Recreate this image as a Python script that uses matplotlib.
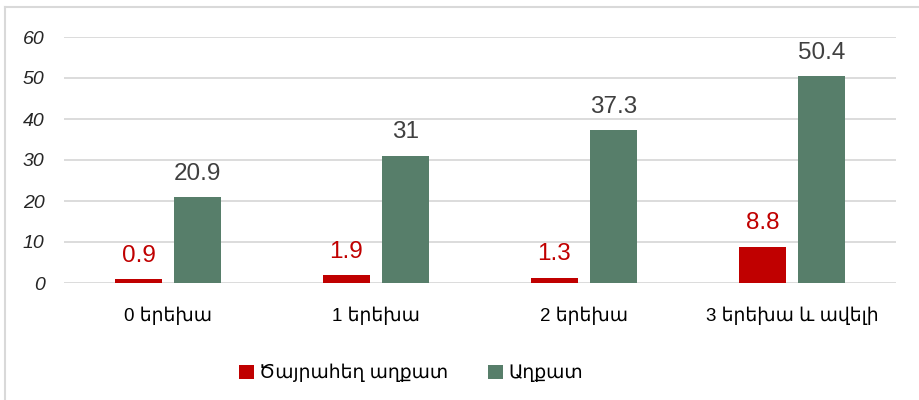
import numpy as np
import matplotlib
matplotlib.use("Agg")
import matplotlib.pyplot as plt
from matplotlib.lines import Line2D

plt.rcParams['font.family'] = ['Liberation Sans', 'DejaVu Sans']

# data
categories = ["0 երեխա", "1 երեխա", "2 երեխա", "3 երեխա և ավելի"]
extreme_poor = [0.9, 1.9, 1.3, 8.8]
poor = [20.9, 31, 37.3, 50.4]
series_names = ["Ծայրահեղ աղքատ", "Աղքատ"]
yticks = [0, 10, 20, 30, 40, 50, 60]

red = "#C00000"
green = "#577E6A"
grid_col = "#D9D9D9"

fig = plt.figure(figsize=(9.2, 4.0), dpi=100)
ax = fig.add_axes([64 / 920, 1 - 283 / 400, 832 / 920, 246 / 400])

x = np.arange(len(categories))
w = 0.226
off = 0.142
b1 = ax.bar(x - off, extreme_poor, w, color=red, label=series_names[0], zorder=3)
b2 = ax.bar(x + off, poor, w, color=green, label=series_names[1], zorder=3)

for rect, v in zip(b1, extreme_poor):
    ax.annotate("{:g}".format(v), (rect.get_x() + rect.get_width() / 2, v),
                xytext=(0, 9), textcoords="offset points", ha="center", va="bottom",
                fontsize=17.5, color=red)
for rect, v in zip(b2, poor):
    ax.annotate("{:g}".format(v), (rect.get_x() + rect.get_width() / 2, v),
                xytext=(0, 9), textcoords="offset points", ha="center", va="bottom",
                fontsize=17.5, color="#404040")

ax.set_xlim(-0.5, len(categories) - 0.5)
ax.set_ylim(0, 60)
ax.set_yticks(yticks)
ax.set_yticklabels([str(t) for t in yticks], fontstyle="italic", fontsize=14, color="#262626")
ax.set_xticks(x)
ax.set_xticklabels(categories, fontsize=13.5, color="#000000")
ax.tick_params(axis="both", length=0)
ax.tick_params(axis="y", pad=14)
ax.tick_params(axis="x", pad=17)
ax.grid(axis="y", color=grid_col, linewidth=1.3, zorder=0)
for s in ax.spines.values():
    s.set_visible(False)

ax.legend(loc="center", bbox_to_anchor=(411 / 920, 1 - 373 / 400),
          bbox_transform=fig.transFigure, ncol=2, frameon=False, fontsize=13.5,
          handlelength=0.8, handleheight=0.8, handletextpad=0.3, columnspacing=2.1)

# chart frame
fig.add_artist(Line2D([5 / 920, 5 / 920], [0, 1 - 7 / 400], transform=fig.transFigure,
                      color=grid_col, linewidth=1.5))
fig.add_artist(Line2D([5 / 920, 1], [1 - 7 / 400, 1 - 7 / 400], transform=fig.transFigure,
                      color=grid_col, linewidth=1.5))

fig.savefig("out.png", dpi=100)
